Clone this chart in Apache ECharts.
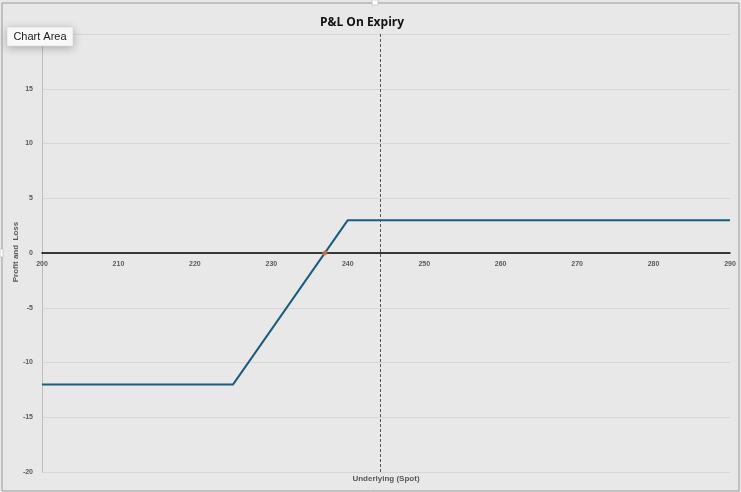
<!DOCTYPE html>
<html>
<head>
<meta charset="utf-8">
<script src="https://cdn.jsdelivr.net/npm/echarts@6/dist/echarts.min.js"></script>
<style>
html,body{margin:0;padding:0;background:#fff;}
#c{width:741px;height:492px;}
</style>
</head>
<body>
<div id="c"></div>
<script>
const titleText = "P&L On Expiry";
const xName = "Underlying (Spot)";
const yName = "Profit and  Loss";
const payoffX = [200, 225, 240, 290];
const payoffY = [-12, -12, 3, 3];
const breakevenX = [237];
const breakevenY = [0];
const spotX = 244.2;
const xMin = 200, xMax = 290, xStep = 10;
const yMin = -20, yMax = 20, yStep = 5;

const chart = echarts.init(document.getElementById('c'), null, {renderer: 'canvas'});
const lineData = payoffX.map((x, i) => [x, payoffY[i]]);
const beData = breakevenX.map((x, i) => [x, breakevenY[i]]);
const labelStyle = {fontSize: 7, fontWeight: 'bold', color: '#595959', fontFamily: 'Liberation Sans, Arial, sans-serif'};

// pixel distance from grid bottom to the zero line (used to lift the x labels onto the zero line)
const gridTop = 34, gridBottom = 20, chartH = 492;
const plotH = chartH - gridTop - gridBottom;
const zeroOffset = plotH * (0 - yMin) / (yMax - yMin);

chart.setOption({
  backgroundColor: '#e8e8e8',
  animation: false,
  title: {
    text: titleText, left: 357, top: 12, textAlign: 'center',
    textStyle: {fontSize: 12, fontWeight: 'bold', color: '#111', fontFamily: 'Open Sans, Liberation Sans, sans-serif'}
  },
  grid: {left: 42, right: 11, top: gridTop, bottom: gridBottom, containLabel: false},
  xAxis: [
    {
      type: 'value', min: xMin, max: xMax, interval: xStep,
      axisLine: {onZero: true, lineStyle: {color: '#000', width: 1.5}},
      axisTick: {show: false},
      splitLine: {show: false},
      axisLabel: {show: false}
    },
    {
      type: 'value', min: xMin, max: xMax, interval: xStep, position: 'bottom',
      offset: -zeroOffset,
      axisLine: {show: false},
      axisTick: {show: false},
      splitLine: {show: false},
      axisLabel: Object.assign({margin: 8}, labelStyle)
    }
  ],
  yAxis: {
    type: 'value', min: yMin, max: yMax, interval: yStep,
    axisLine: {show: true, onZero: false, lineStyle: {color: '#bdbdbd', width: 1}},
    axisTick: {show: false},
    splitLine: {show: true, lineStyle: {color: '#d6d6d6', width: 1}},
    axisLabel: Object.assign({margin: 9}, labelStyle)
  },
  series: [
    {
      type: 'line', data: lineData, symbol: 'none',
      lineStyle: {color: '#1b5c7e', width: 2},
      markLine: {
        silent: true, symbol: 'none', label: {show: false},
        lineStyle: {color: '#555', type: [3, 2], width: 1},
        data: [{xAxis: spotX}]
      },
      z: 3
    },
    {
      type: 'scatter', data: beData, symbol: 'circle', symbolSize: 5,
      itemStyle: {color: '#e8733a'}, z: 4
    }
  ],
  graphic: [
    {type: 'rect', shape: {x: 2, y: 3, width: 737, height: 488}, style: {fill: 'none', stroke: '#9a9a9a', lineWidth: 1}, silent: true},
    {type: 'rect', shape: {x: 372, y: 0, width: 6, height: 5}, style: {fill: '#fff', stroke: '#aaa', lineWidth: 0.5}},
    {type: 'rect', shape: {x: 0, y: 249, width: 3, height: 8}, style: {fill: '#fff', stroke: '#aaa', lineWidth: 0.5}},
    {type: 'text', x: 386, y: 479, style: {text: xName, fontSize: 8, fontWeight: 'bold', fill: '#595959', textAlign: 'center', textVerticalAlign: 'middle', fontFamily: 'Liberation Sans, Arial, sans-serif'}},
    {type: 'text', x: 16, y: 252, rotation: Math.PI / 2, style: {text: yName, fontSize: 8, fontWeight: 'bold', fill: '#595959', textAlign: 'center', textVerticalAlign: 'middle', fontFamily: 'Liberation Sans, Arial, sans-serif'}},
    {type: 'rect', shape: {x: 7, y: 27, width: 66, height: 19}, style: {fill: '#fafafa', stroke: '#d0d0d0', lineWidth: 0.5, shadowBlur: 8, shadowColor: 'rgba(0,0,0,0.25)', shadowOffsetY: 2}, z: 100},
    {type: 'text', x: 40, y: 36.5, z: 101, style: {text: 'Chart Area', fontSize: 11, fill: '#1a1a1a', textAlign: 'center', textVerticalAlign: 'middle', fontFamily: 'Liberation Sans, Arial, sans-serif'}}
  ]
});
</script>
</body>
</html>
